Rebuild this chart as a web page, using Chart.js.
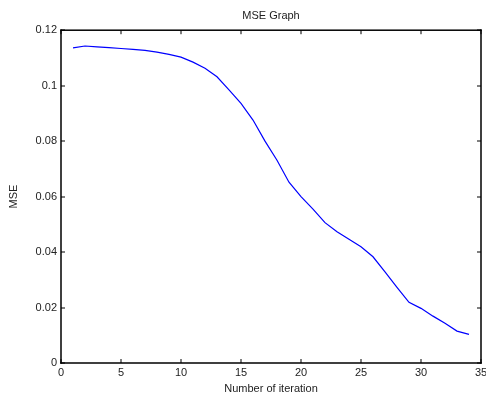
<!DOCTYPE html>
<html>
<head>
<meta charset="utf-8">
<script src="https://cdn.jsdelivr.net/npm/chart.js@4"></script>
<style>
  html, body { margin: 0; padding: 0; background: #fff; }
  #wrap { width: 486px; height: 399px; }
</style>
</head>
<body>
<div id="wrap"><canvas id="mseChart"></canvas></div>
<script>
// iteration number and the MSE
const iterations = [1, 2, 3, 4, 5, 6, 7, 8, 9, 10, 11, 12, 13, 14, 15, 16, 17,
    18, 19, 20, 21, 22, 23, 24, 25, 26, 27, 28, 29, 30, 31, 32, 33, 34];
const mseValues = [0.1136, 0.1143, 0.1140, 0.1137, 0.1134, 0.1131, 0.1127, 0.1121,
    0.1113, 0.1103, 0.1085, 0.1063, 0.1032, 0.0985, 0.0936, 0.0876, 0.0800,
    0.0731, 0.0652, 0.0600, 0.0555, 0.0506, 0.0473, 0.0446, 0.0419, 0.0383,
    0.0329, 0.0273, 0.0219, 0.0197, 0.0169, 0.0143, 0.0115, 0.0103];

const xTicks = [0, 5, 10, 15, 20, 25, 30, 35];
const yTicks = [0, 0.02, 0.04, 0.06, 0.08, 0.1, 0.12];

const FONT = '"Liberation Sans", Arial, Helvetica, sans-serif';
const TXT = '#222';

// matlab style box with ticks pointing inwards (drawn with fillRect)
const boxTicks = {
    id: 'boxTicks',
    afterDraw(chart) {
        const ctx = chart.ctx;
        const a = chart.chartArea;
        const sx = chart.scales.x, sy = chart.scales.y;
        const len = 4, w = 1.5;
        ctx.save();
        ctx.fillStyle = '#000';
        xTicks.forEach(v => {
            const px = Math.round(sx.getPixelForValue(v));
            ctx.fillRect(px - 0.5, a.bottom - len, 1, len);
            ctx.fillRect(px - 0.5, a.top, 1, len);
        });
        yTicks.forEach(v => {
            const py = Math.round(sy.getPixelForValue(v));
            ctx.fillRect(a.left, py - 0.5, len, 1);
            ctx.fillRect(a.right - len, py - 0.5, len, 1);
        });
        // frame
        ctx.fillRect(a.left - w / 2, a.top - w / 2, a.right - a.left + w, w);
        ctx.fillRect(a.left - w / 2, a.bottom - w / 2, a.right - a.left + w, w);
        ctx.fillRect(a.left - w / 2, a.top - w / 2, w, a.bottom - a.top + w);
        ctx.fillRect(a.right - w / 2, a.top - w / 2, w, a.bottom - a.top + w);
        ctx.restore();
    }
};

new Chart(document.getElementById('mseChart'), {
    type: 'line',
    data: {
        datasets: [{
            label: 'MSE',
            data: iterations.map((it, i) => ({ x: it, y: mseValues[i] })),
            borderColor: '#0000ff',
            borderWidth: 1.2,
            pointRadius: 0,
            tension: 0,
            fill: false
        }]
    },
    options: {
        responsive: true,
        maintainAspectRatio: false,
        animation: false,
        layout: { padding: { left: 0, right: 5, top: 0, bottom: 0 } },
        plugins: {
            legend: { display: false },
            tooltip: { enabled: false },
            title: {
                display: true,
                text: 'MSE Graph',
                fullSize: false,
                color: TXT,
                font: { family: FONT, size: 11, weight: 'normal' },
                padding: { top: 9, bottom: 8 }
            }
        },
        scales: {
            x: {
                type: 'linear',
                min: 0,
                max: 35,
                grid: { display: false, drawTicks: false },
                border: { display: false },
                ticks: {
                    stepSize: 5,
                    padding: 3,
                    maxRotation: 0,
                    color: TXT,
                    font: { family: FONT, size: 11 }
                },
                title: {
                    display: true,
                    text: 'Number of iteration',
                    color: TXT,
                    font: { family: FONT, size: 11 },
                    padding: { top: 0, bottom: 3 }
                },
                afterFit(scale) {
                    scale.height = 36;
                    scale.paddingLeft = 0;
                    scale.paddingRight = 0;
                }
            },
            y: {
                min: 0,
                max: 0.12,
                grid: { display: false, drawTicks: false },
                border: { display: false },
                ticks: {
                    stepSize: 0.02,
                    padding: 4,
                    color: TXT,
                    font: { family: FONT, size: 11 },
                    callback: v => String(Number(v.toFixed(2)))
                },
                title: {
                    display: true,
                    text: 'MSE',
                    color: TXT,
                    font: { family: FONT, size: 11 },
                    padding: { top: 7, bottom: 0 }
                },
                afterFit(scale) {
                    scale.width = 61;
                }
            }
        }
    },
    plugins: [boxTicks]
});
</script>
</body>
</html>
